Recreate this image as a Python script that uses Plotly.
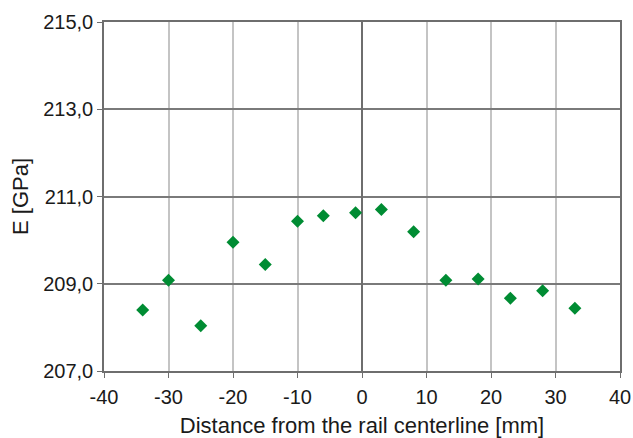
import plotly.graph_objects as go

# Measurement positions across the rail head and the elastic modulus at each
distance_mm = [-34, -30, -25, -20, -15, -10, -6, -1, 3, 8, 13, 18, 23, 28, 33]
modulus_gpa = [208.40, 209.08, 208.04, 209.95, 209.44, 210.43, 210.56, 210.63,
               210.70, 210.19, 209.08, 209.11, 208.67, 208.84, 208.44]

x_ticks = [-40, -30, -20, -10, 0, 10, 20, 30, 40]
y_ticks = [207, 209, 211, 213, 215]
y_tick_labels = ["207,0", "209,0", "211,0", "213,0", "215,0"]

font_family = "Liberation Sans, Arial, sans-serif"

fig = go.Figure(
    go.Scatter(
        x=distance_mm,
        y=modulus_gpa,
        mode="markers",
        marker=dict(symbol="diamond", size=10, color="#008C33"),
        showlegend=False,
    )
)

fig.update_layout(
    width=633,
    height=438,
    margin=dict(l=104, r=13, t=22, b=67),
    paper_bgcolor="white",
    plot_bgcolor="white",
    font=dict(family=font_family, size=20, color="#1a1a1a"),
)

fig.update_xaxes(
    range=[-40, 40],
    tickvals=x_ticks,
    ticktext=[str(v) for v in x_ticks],
    automargin=False,
    showgrid=True,
    gridcolor="#c4c4c4",
    gridwidth=1.5,
    zeroline=True,
    zerolinecolor="#6e6e6e",
    zerolinewidth=1.5,
    showline=True,
    linecolor="#6e6e6e",
    linewidth=1.5,
    mirror=True,
    ticks="outside",
    ticklen=5,
    tickcolor="#6e6e6e",
    tickfont=dict(size=20),
    ticklabelstandoff=2,
    title=dict(text="Distance from the rail centerline [mm]", font=dict(size=22), standoff=13),
)

fig.update_yaxes(
    range=[207, 215],
    tickvals=y_ticks,
    ticktext=y_tick_labels,
    automargin=False,
    showgrid=True,
    gridcolor="#7a7a7a",
    gridwidth=1.5,
    zeroline=False,
    showline=True,
    linecolor="#6e6e6e",
    linewidth=1.5,
    mirror=True,
    ticks="outside",
    ticklen=5,
    tickcolor="#6e6e6e",
    tickfont=dict(size=20),
    title=dict(text="E [GPa]", font=dict(size=22), standoff=8),
)

fig.write_html("out.html")
